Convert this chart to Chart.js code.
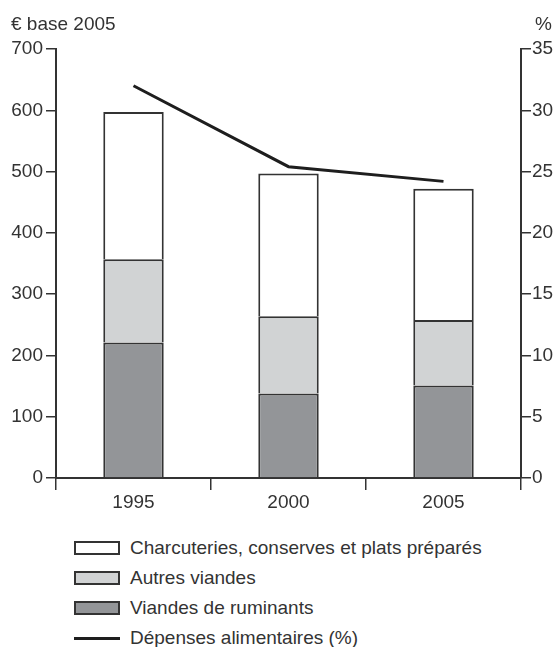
<!DOCTYPE html>
<html>
<head>
<meta charset="utf-8">
<script src="https://cdn.jsdelivr.net/npm/chart.js@4"></script>
<style>
  body { margin: 0; background: #fff; }
  #wrap { position: relative; width: 555px; height: 647px; font-family: "Liberation Sans", Arial, sans-serif; color: #333; }
  #chartBox { position: absolute; left: 0; top: 0; width: 555px; height: 520px; }
  .unit { position: absolute; top: 14px; font-size: 19px; line-height: 19px; }
  #legend { position: absolute; left: 74px; top: 533px; }
  .row { display: flex; align-items: center; height: 30px; font-size: 19px; }
  .swatch { width: 42px; height: 10px; border: 2px solid #333; margin-right: 10px; }
  .lineSwatch { width: 46px; height: 3px; background: #1e1e1e; margin-right: 10px; }
</style>
</head>
<body>
<div id="wrap">
  <div id="chartBox"><canvas id="chart"></canvas></div>
  <div class="unit" style="left:11px">€ base 2005</div>
  <div class="unit" style="right:3px">%</div>
  <div id="legend"></div>
</div>
<script>
// values
const years = ['1995', '2000', '2005'];
const ruminants = [221, 138, 151];
const autresViandes = [136, 126, 107];
const charcuteries = [240, 233, 214];
const depensesPct = [32, 25.4, 24.2];

const axisColor = '#333';
const tickFont = { family: '"Liberation Sans", Arial, sans-serif', size: 19 };

function barSet(label, data, color) {
    return {
        type: 'bar', label: label, data: data, backgroundColor: color,
        borderColor: axisColor, borderWidth: 2, order: 1,
        barPercentage: 0.39, categoryPercentage: 1
    };
}

const datasets = [
    barSet('Viandes de ruminants', ruminants, '#939598'),
    barSet('Autres viandes', autresViandes, '#d1d3d4'),
    barSet('Charcuteries, conserves et plats préparés', charcuteries, '#ffffff'),
    {
        type: 'line', label: 'Dépenses alimentaires (%)', data: depensesPct, yAxisID: 'y1',
        borderColor: '#1e1e1e', borderWidth: 3, pointRadius: 0, tension: 0, fill: false, order: 0
    }
];

const chart = new Chart(document.getElementById('chart'), {
    data: { labels: years, datasets: datasets },
    options: {
        responsive: true,
        maintainAspectRatio: false,
        animation: false,
        layout: { padding: { top: 49, left: 0, right: 0, bottom: 0 } },
        plugins: { legend: { display: false }, tooltip: { enabled: false } },
        scales: {
            x: {
                stacked: true,
                grid: { drawOnChartArea: false, tickLength: 12, tickColor: axisColor, lineWidth: 1.5 },
                border: { color: axisColor, width: 2 },
                ticks: { color: axisColor, font: tickFont, padding: 1 },
                afterFit: (s) => { s.height = 42; }
            },
            y: {
                stacked: true, min: 0, max: 700,
                grid: { drawOnChartArea: false, tickLength: 10, tickColor: axisColor, lineWidth: 1.5 },
                border: { color: axisColor, width: 2 },
                ticks: { stepSize: 100, color: axisColor, font: tickFont, padding: 3 },
                afterFit: (s) => { s.width = 56; }
            },
            y1: {
                position: 'right', min: 0, max: 35,
                grid: { drawOnChartArea: false, tickLength: 10, tickColor: axisColor, lineWidth: 1.5 },
                border: { color: axisColor, width: 2 },
                ticks: { stepSize: 5, color: axisColor, font: tickFont, padding: 1 },
                afterFit: (s) => { s.width = 34; }
            }
        }
    }
});

// legend, top to bottom as in the source figure
const legendOrder = [2, 1, 0, 3];
const legendEl = document.getElementById('legend');
legendOrder.forEach((i) => {
    const ds = chart.data.datasets[i];
    const row = document.createElement('div');
    row.className = 'row';
    const mark = document.createElement('div');
    if (ds.type === 'line') {
        mark.className = 'lineSwatch';
    } else {
        mark.className = 'swatch';
        mark.style.background = ds.backgroundColor;
    }
    const txt = document.createElement('span');
    txt.textContent = ds.label;
    row.appendChild(mark);
    row.appendChild(txt);
    legendEl.appendChild(row);
});
</script>
</body>
</html>
